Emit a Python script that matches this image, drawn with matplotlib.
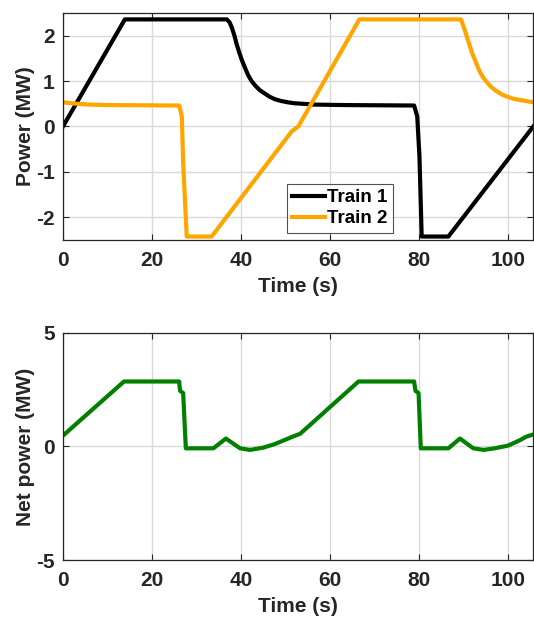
import matplotlib
matplotlib.use("Agg")
import matplotlib.pyplot as plt

# Train power profiles (time in s, power in MW)
t_train1 = [0, 13.9, 36.8, 37.4, 37.9, 38.5, 39.0, 39.6, 40.2, 40.9, 41.6, 42.3,
            43.1, 44.2, 45.4, 46.5, 47.6, 49.0, 50.6, 52.0, 53.6, 56.6, 63.4,
            78.9, 79.6, 80.1, 80.6, 86.6, 105.7]
p_train1 = [0.0, 2.36, 2.36, 2.30, 2.19, 2.01, 1.82, 1.63, 1.46, 1.29, 1.13, 1.01,
            0.91, 0.80, 0.72, 0.65, 0.60, 0.56, 0.53, 0.51, 0.50, 0.48, 0.47,
            0.46, 0.22, -0.66, -2.43, -2.43, 0.0]

t_train2 = [0, 3, 6, 10, 26.1, 26.7, 27.0, 27.8, 33.4, 51.4, 52.9, 66.6, 89.4,
            89.8, 90.3, 90.9, 91.5, 92.0, 92.6, 93.1, 93.7, 94.4, 95.2, 96.1,
            97.1, 98.0, 98.9, 100.0, 101.2, 102.3, 103.4, 105.8]
p_train2 = [0.53, 0.50, 0.48, 0.47, 0.46, 0.22, -0.80, -2.43, -2.43, -0.11, 0.0,
            2.36, 2.36, 2.26, 2.12, 1.93, 1.75, 1.60, 1.46, 1.33, 1.20, 1.08,
            0.98, 0.88, 0.80, 0.74, 0.69, 0.65, 0.61, 0.59, 0.57, 0.53]

# Net power drawn by both trains
t_net = [0, 13.7, 26.1, 26.3, 27.0, 27.6, 33.8, 36.6, 39.8, 42.0, 45.0, 47.5,
         49.5, 51.8, 53.3, 66.4, 78.9, 79.2, 79.9, 80.4, 86.6, 89.2, 92.2, 94.5,
         97.0, 100.0, 102.5, 104.2, 105.7]
p_net = [0.48, 2.86, 2.86, 2.45, 2.35, -0.08, -0.08, 0.35, -0.08, -0.15, -0.05,
         0.10, 0.26, 0.45, 0.56, 2.86, 2.86, 2.45, 2.35, -0.08, -0.08, 0.35,
         -0.08, -0.15, -0.08, 0.04, 0.26, 0.44, 0.53]

x_ticks = [0, 20, 40, 60, 80, 100]
top_yticks = [-2, -1, 0, 1, 2]
bottom_yticks = [-5, 0, 5]

plt.rcParams['font.family'] = ['Liberation Sans', 'DejaVu Sans']
plt.rcParams['font.weight'] = 'bold'
plt.rcParams['axes.labelweight'] = 'bold'
plt.rcParams['axes.unicode_minus'] = False

TEXT = '#262626'
GRID = '#d9d9d9'
FS = 15

fig = plt.figure(figsize=(5.34, 6.21), dpi=100)
ax1 = fig.add_axes([0.118, 0.614, 0.880, 0.365])
ax2 = fig.add_axes([0.118, 0.098, 0.880, 0.366])


def style_axes(ax):
    ax.set_xlim(0, 105.6)
    ax.set_xticks(x_ticks)
    ax.grid(True, color=GRID, linewidth=1.0)
    ax.set_axisbelow(True)
    ax.tick_params(direction='in', top=True, right=True, length=4,
                   width=0.8, labelsize=FS, colors=TEXT, labelcolor=TEXT)
    ax.tick_params(axis='x', pad=8)
    ax.tick_params(axis='y', pad=6)
    for lbl in ax.get_xticklabels() + ax.get_yticklabels():
        lbl.set_fontweight('bold')
    for sp in ax.spines.values():
        sp.set_color(TEXT)
        sp.set_linewidth(0.9)
    ax.set_xlabel('Time (s)', fontsize=FS, color=TEXT, labelpad=5)


# --- Top: individual trains ---
ax1.plot(t_train1, p_train1, color='black', linewidth=3, label='Train 1')
ax1.plot(t_train2, p_train2, color='#FFA500', linewidth=3, label='Train 2')
ax1.set_ylim(-2.5, 2.5)
ax1.set_yticks(top_yticks)
style_axes(ax1)
ax1.set_ylabel('Power (MW)', fontsize=FS, color=TEXT, labelpad=1)
leg = ax1.legend(loc='lower left', bbox_to_anchor=(0.476, 0.03), fontsize=13.5,
                 frameon=True, fancybox=False, handlelength=1.75,
                 handletextpad=0.1, borderpad=0.3, labelspacing=0.2,
                 borderaxespad=0)
leg.get_frame().set_edgecolor(TEXT)
leg.get_frame().set_linewidth(0.8)
for txt in leg.get_texts():
    txt.set_fontweight('bold')
    txt.set_color('black')

# --- Bottom: net power ---
ax2.plot(t_net, p_net, color='#008000', linewidth=3)
ax2.set_ylim(-5, 5)
ax2.set_yticks(bottom_yticks)
style_axes(ax2)
ax2.set_ylabel('Net power (MW)', fontsize=FS, color=TEXT, labelpad=1)

fig.savefig('out.png', dpi=100)
